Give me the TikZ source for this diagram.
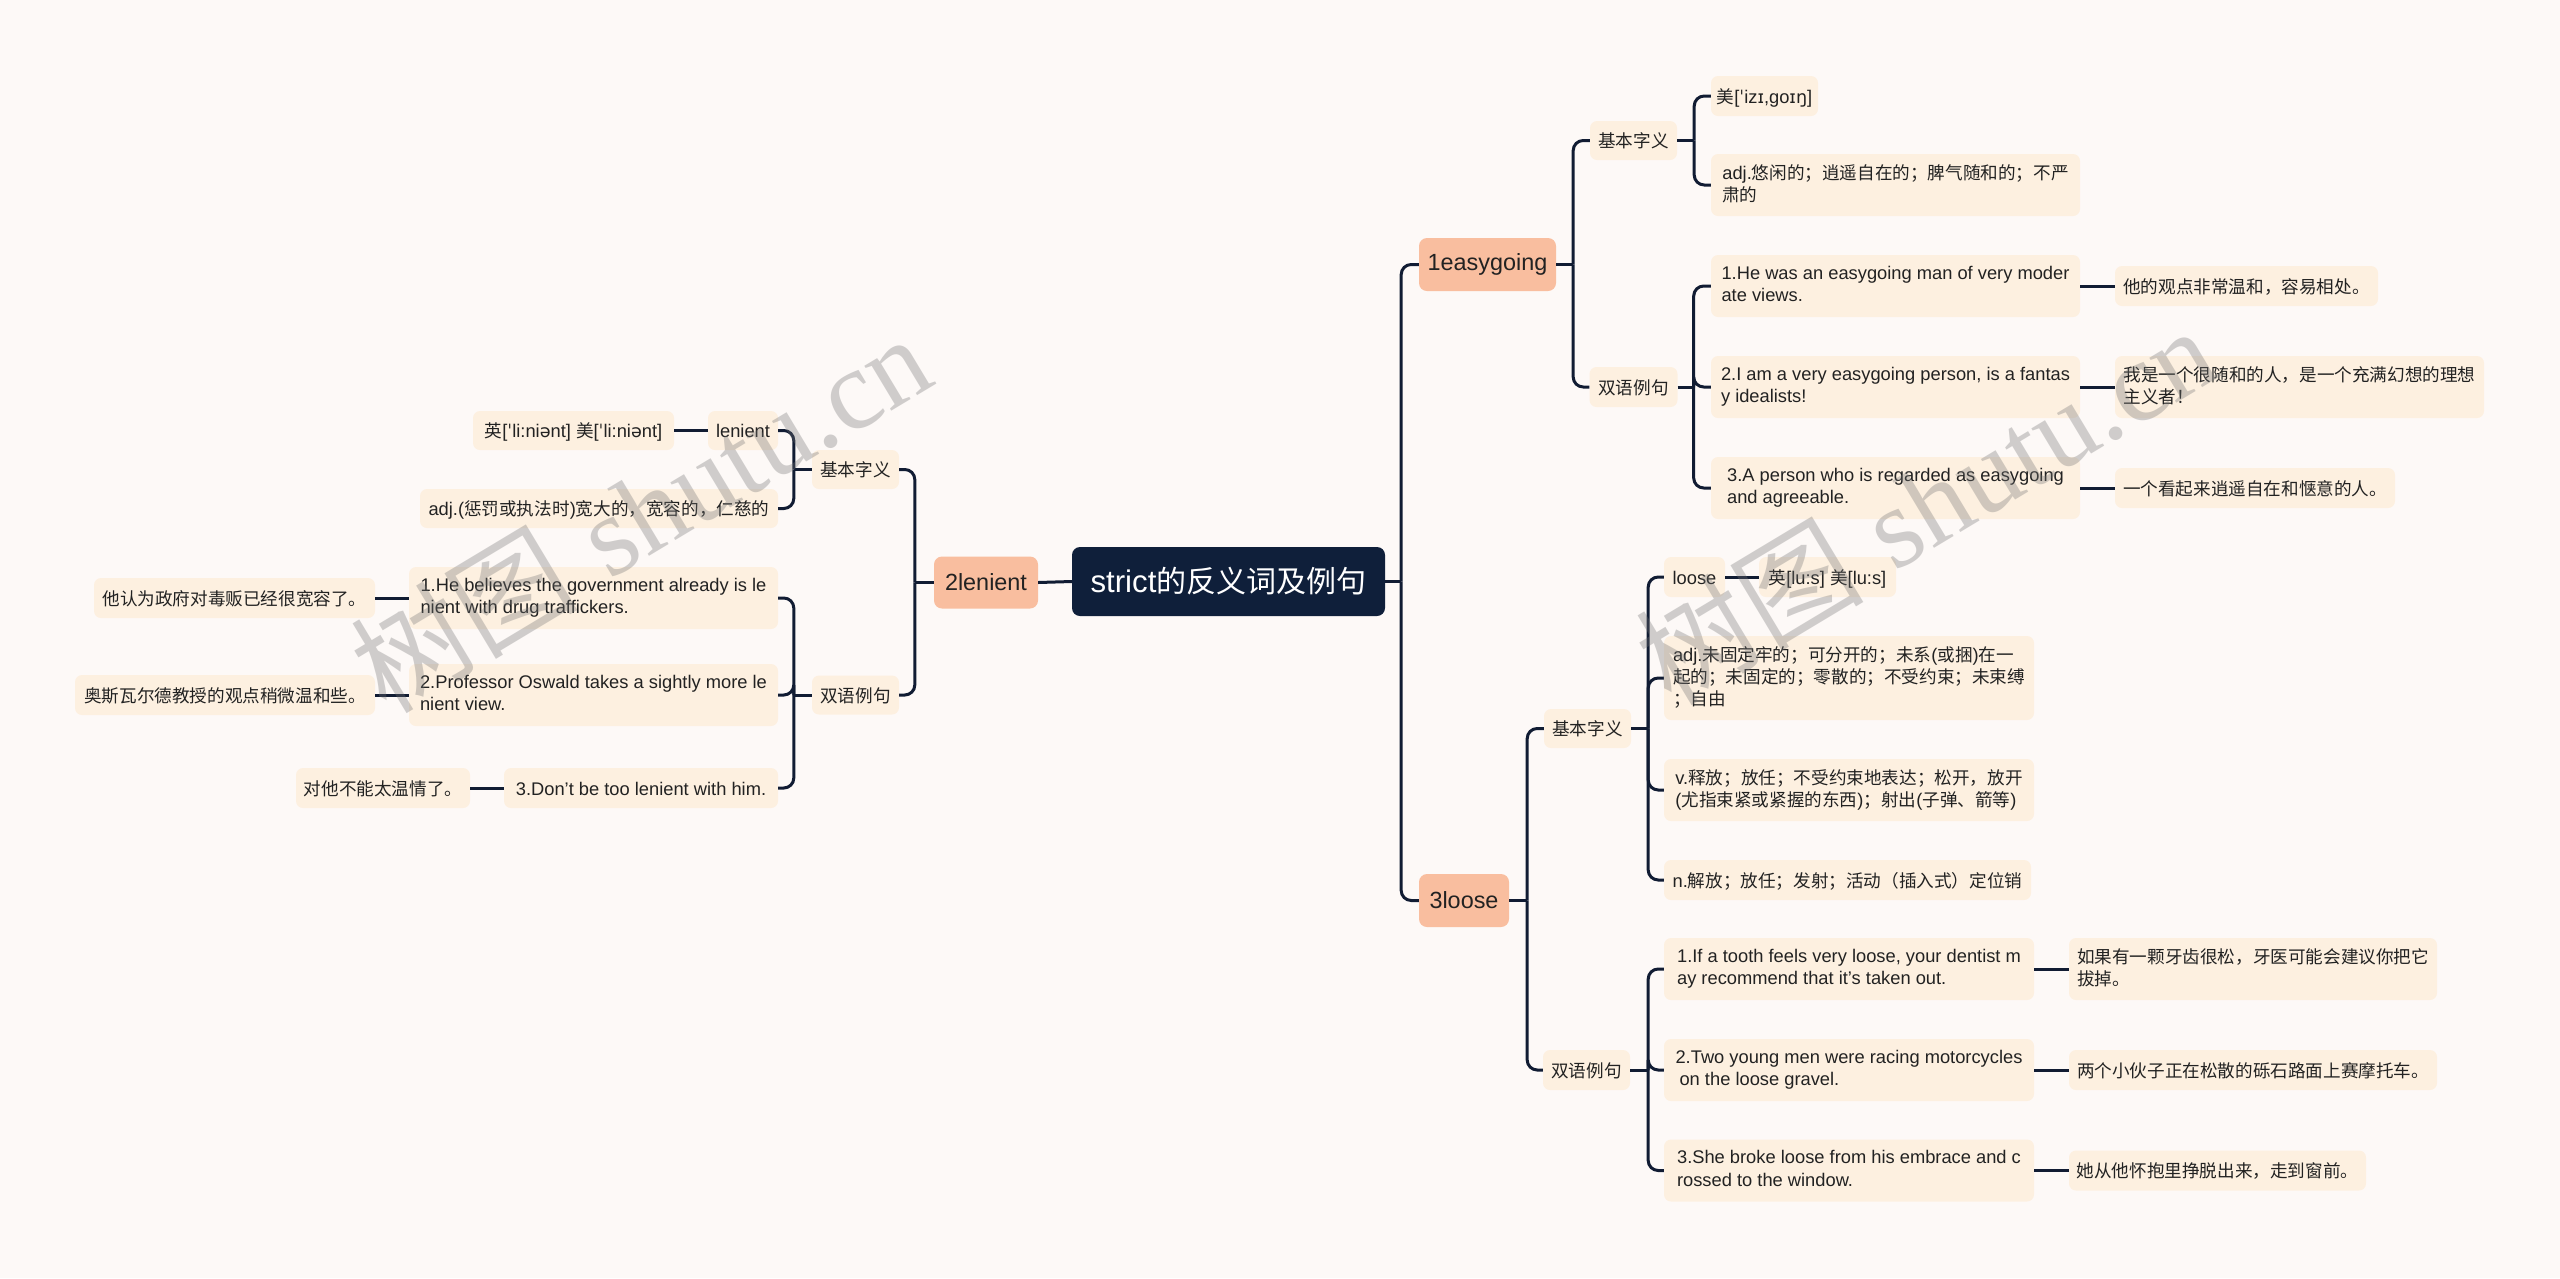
\documentclass[tikz,border=0pt]{standalone}
\usepackage{fontspec}
\setmainfont{Liberation Sans}[Scale=1.04]
\newfontfamily\latinfont{Liberation Sans}[Scale=1.04]
\newfontfamily\cjkfont{Noto Sans CJK SC}
\newfontfamily\ipa{DejaVu Sans}
\newfontfamily\wmserif{Liberation Serif}
\XeTeXinterchartokenstate=1
\newXeTeXintercharclass\CJKcls
\newcount\cjkcnt
\def\setcharcls#1#2#3{\cjkcnt=#1\relax\loop\XeTeXcharclass\cjkcnt=#3\relax\ifnum\cjkcnt<#2\relax\advance\cjkcnt by 1\relax\repeat}
\setcharcls{"20}{"2FF}{0}
\setcharcls{"2E80}{"9FFF}{\CJKcls}
\setcharcls{"FF00}{"FFEF}{\CJKcls}
\XeTeXinterchartoks 0 \CJKcls = {\cjkfont}
\XeTeXinterchartoks 4095 \CJKcls = {\cjkfont}
\XeTeXinterchartoks \CJKcls 0 = {\latinfont}
\XeTeXinterchartoks \CJKcls 4095 = {\latinfont}
\newcommand\mystrut{\rule[-4pt]{0pt}{22.4pt}}
\definecolor{bgc}{HTML}{FDF9F7}
\definecolor{leaff}{HTML}{FDF0E0}
\definecolor{mainf}{HTML}{F9BE9F}
\definecolor{rootf}{HTML}{0F1F3A}
\definecolor{linec}{HTML}{111C33}
\definecolor{txt}{HTML}{222222}
\begin{document}
\begin{tikzpicture}[x=1pt,y=-1pt,
  conn/.style={draw=linec, line width=3pt},
  rc/.style={rounded corners=10pt},
  leaf/.style={fill=leaff, rounded corners=7pt, inner xsep=5pt, inner ysep=2pt, align=left,
    font=\fontsize{17.6}{22.4}\selectfont, text=txt,
    execute at begin node=\mystrut, execute at end node=\mystrut},
  mainb/.style={fill=mainf, rounded corners=8pt, inner xsep=8pt, inner ysep=2pt,
    font=\fontsize{22.5}{28}\selectfont, text=txt, minimum height=53pt, yshift=-1pt},
  rootb/.style={fill=rootf, rounded corners=8pt, inner xsep=10pt,
    font=\fontsize{30}{36}\selectfont, text=white},
  wmark/.style={rotate=31, text=black!55, opacity=0.33,
    font=\wmserif\fontsize{114}{120}\selectfont}
]
\useasboundingbox (0,0) rectangle (2560,1278);
\fill[bgc] (0,0) rectangle (2560,1278);

% root and main branches
\node[rootb, minimum width=313pt, minimum height=69pt] (root) at (1228.5,581.5) {strict的反义词及例句};
\node[mainb, minimum width=137pt] (m1) at (1487.5,263.5) {1easygoing};
\node[mainb, minimum width=104pt, minimum height=52pt] (m2) at (986,581.5) {2lenient};
\node[mainb, minimum width=90pt] (m3) at (1464,899.5) {3loose};

% 1easygoing
\node[leaf, minimum width=87pt, minimum height=39pt] (b1) at (1633.5,140.5) {基本字义};
\node[leaf, minimum width=107pt, minimum height=40pt] (b1a) at (1764.5,96) {美[{\ipa ˈ}iz{\ipa ɪ},go{\ipa ɪŋ}]};
\node[leaf, minimum width=369pt, minimum height=62pt] (b1b) at (1895.5,185) {adj.悠闲的；逍遥自在的；脾气随和的；不严\\肃的};
\node[leaf, minimum width=88pt, minimum height=40pt] (b2) at (1633.5,387) {双语例句};
\node[leaf, minimum width=369pt, minimum height=62pt] (e1) at (1895.5,286) {1.He was an easygoing man of very moder\\ate views.};
\node[leaf, minimum width=263pt, minimum height=40pt] (e1t) at (2246.5,286) {他的观点非常温和，容易相处。};
\node[leaf, minimum width=369pt, minimum height=62pt] (e2) at (1895.5,387) {2.I am a very easygoing person, is a fantas\\y idealists!};
\node[leaf, minimum width=369pt, minimum height=62pt] (e2t) at (2299.5,387) {我是一个很随和的人，是一个充满幻想的理想\\主义者！};
\node[leaf, minimum width=369pt, minimum height=62pt] (e3) at (1895.5,488) {3.A person who is regarded as easygoing\\and agreeable.};
\node[leaf, minimum width=280pt, minimum height=40pt] (e3t) at (2255,488) {一个看起来逍遥自在和惬意的人。};

% 3loose
\node[leaf, minimum width=87pt, minimum height=39pt] (c1) at (1587.5,728.5) {基本字义};
\node[leaf, minimum width=61pt, minimum height=40pt] (c1a) at (1694.5,577) {loose};
\node[leaf, minimum width=137pt, minimum height=40pt] (c1a2) at (1827.5,577) {英[lu:s] 美[lu:s]};
\node[leaf, minimum width=370pt, minimum height=84pt] (c1b) at (1849,678) {adj.未固定牢的；可分开的；未系(或捆)在一\\起的；未固定的；零散的；不受约束；未束缚\\；自由};
\node[leaf, minimum width=370pt, minimum height=62pt] (c1c) at (1849,790) {v.释放；放任；不受约束地表达；松开，放开\\(尤指束紧或紧握的东西)；射出(子弹、箭等)};
\node[leaf, minimum width=367pt, minimum height=40pt] (c1d) at (1847.5,880) {n.解放；放任；发射；活动（插入式）定位销};
\node[leaf, minimum width=87pt, minimum height=40pt] (c2) at (1586.5,1070) {双语例句};
\node[leaf, minimum width=370pt, minimum height=62pt] (l1) at (1849,969) {1.If a tooth feels very loose, your dentist m\\ay recommend that it's taken out.};
\node[leaf, minimum width=368pt, minimum height=62pt] (l1t) at (2253,969) {如果有一颗牙齿很松，牙医可能会建议你把它\\拔掉。};
\node[leaf, minimum width=370pt, minimum height=62pt] (l2) at (1849,1070) {2.Two young men were racing motorcycles\\\hspace*{4pt}on the loose gravel.};
\node[leaf, minimum width=368pt, minimum height=40pt] (l2t) at (2253,1070) {两个小伙子正在松散的砾石路面上赛摩托车。};
\node[leaf, minimum width=370pt, minimum height=62pt] (l3) at (1849,1170.5) {3.She broke loose from his embrace and c\\rossed to the window.};
\node[leaf, minimum width=297pt, minimum height=40pt] (l3t) at (2217.5,1170.5) {她从他怀抱里挣脱出来，走到窗前。};

% 2lenient
\node[leaf, minimum width=87pt, minimum height=39pt] (d1) at (855.5,469.5) {基本字义};
\node[leaf, minimum width=70pt, minimum height=39pt] (d1a) at (743,430.5) {lenient};
\node[leaf, minimum width=201pt, minimum height=39pt] (d1a2) at (573.5,430.5) {英[{\ipa ˈ}li:ni{\ipa ə}nt] 美[{\ipa ˈ}li:ni{\ipa ə}nt]};
\node[leaf, minimum width=358pt, minimum height=39pt] (d1b) at (599,508.5) {adj.(惩罚或执法时)宽大的，宽容的，仁慈的};
\node[leaf, minimum width=87pt, minimum height=39pt] (d2) at (855.5,695) {双语例句};
\node[leaf, minimum width=369pt, minimum height=62pt] (n1) at (593.5,598) {1.He believes the government already is le\\nient with drug traffickers.};
\node[leaf, minimum width=281pt, minimum height=40pt] (n1t) at (234.5,598) {他认为政府对毒贩已经很宽容了。};
\node[leaf, minimum width=369pt, minimum height=62pt] (n2) at (593.5,695) {2.Professor Oswald takes a sightly more le\\nient view.};
\node[leaf, minimum width=300pt, minimum height=40pt] (n2t) at (225,695) {奥斯瓦尔德教授的观点稍微温和些。};
\node[leaf, minimum width=274pt, minimum height=40pt] (n3) at (641,788) {3.Don't be too lenient with him.};
\node[leaf, minimum width=174pt, minimum height=40pt] (n3t) at (383,788) {对他不能太温情了。};

% connectors: root
\draw[conn] (root.east) -- ++(16,0) coordinate (tR);
\draw[conn, rc] (tR) |- (m1.west);
\draw[conn, rc] (tR) |- (m3.west);
\draw[conn] (root.west) -- (m2.east);
% 1easygoing
\draw[conn] (m1.east) -- ++(17,0) coordinate (t1);
\draw[conn, rc] (t1) |- (b1.west);
\draw[conn, rc] (t1) |- (b2.west);
\draw[conn] (b1.east) -- ++(17,0) coordinate (tb1);
\draw[conn, rc] (tb1) |- (b1a.west);
\draw[conn, rc] (tb1) |- (b1b.west);
\draw[conn] (b2.east) -- ++(16,0) coordinate (tb2);
\draw[conn, rc] (tb2) |- (e1.west);
\draw[conn, rc] (tb2) |- (e2.west);
\draw[conn, rc] (tb2) |- (e3.west);
\draw[conn] (e1.east) -- (e1t.west);
\draw[conn] (e2.east) -- (e2t.west);
\draw[conn] (e3.east) -- (e3t.west);
% 3loose
\draw[conn] (m3.east) -- ++(18,0) coordinate (t3);
\draw[conn, rc] (t3) |- (c1.west);
\draw[conn, rc] (t3) |- (c2.west);
\draw[conn] (c1.east) -- ++(17,0) coordinate (tc1);
\draw[conn, rc] (tc1) |- (c1a.west);
\draw[conn, rc] (tc1) |- (c1b.west);
\draw[conn, rc] (tc1) |- (c1c.west);
\draw[conn, rc] (tc1) |- (c1d.west);
\draw[conn] (c1a.east) -- (c1a2.west);
\draw[conn] (c2.east) -- ++(18,0) coordinate (tc2);
\draw[conn, rc] (tc2) |- (l1.west);
\draw[conn, rc] (tc2) |- (l2.west);
\draw[conn, rc] (tc2) |- (l3.west);
\draw[conn] (l1.east) -- (l1t.west);
\draw[conn] (l2.east) -- (l2t.west);
\draw[conn] (l3.east) -- (l3t.west);
% 2lenient
\draw[conn] (m2.west) -- ++(-19,0) coordinate (t2);
\draw[conn, rc] (t2) |- (d1.east);
\draw[conn, rc] (t2) |- (d2.east);
\draw[conn] (d1.west) -- ++(-18,0) coordinate (td1);
\draw[conn, rc] (td1) |- (d1a.east);
\draw[conn, rc] (td1) |- (d1b.east);
\draw[conn] (d1a.west) -- (d1a2.east);
\draw[conn] (d2.west) -- ++(-18,0) coordinate (td2);
\draw[conn, rc] (td2) |- (n1.east);
\draw[conn, rc] (td2) |- (n2.east);
\draw[conn, rc] (td2) |- (n3.east);
\draw[conn] (n1.west) -- (n1t.east);
\draw[conn] (n2.west) -- (n2t.east);
\draw[conn] (n3.west) -- (n3t.east);

% watermarks
\node[wmark] (wm1) at (640,512) {树图 {\wmserif shutu.cn}};
\node[wmark] (wm2) at (1925,504) {树图 {\wmserif shutu.cn}};
\end{tikzpicture}
\end{document}
